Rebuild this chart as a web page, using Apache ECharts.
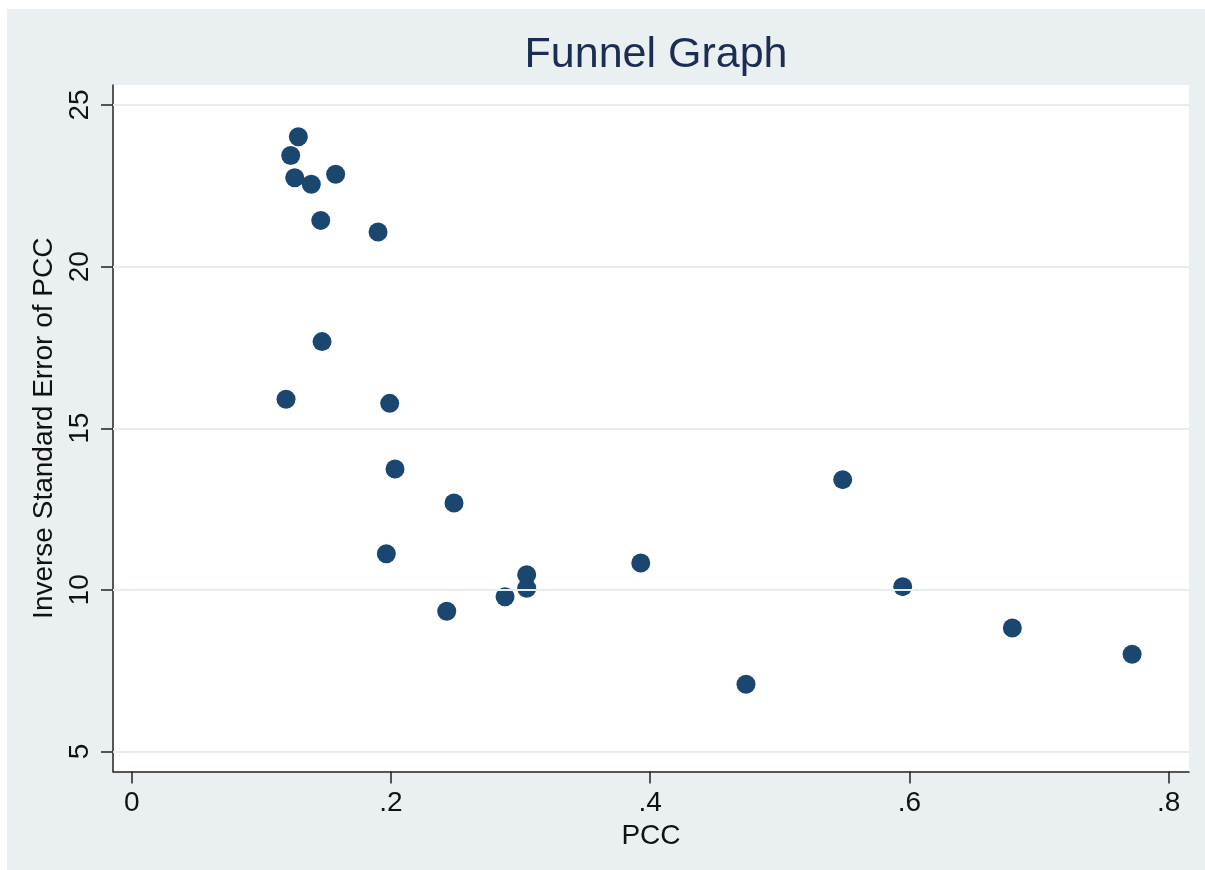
<!DOCTYPE html>
<html>
<head>
<meta charset="utf-8">
<script src="https://cdn.jsdelivr.net/npm/echarts@6/dist/echarts.min.js"></script>
<style>
  html, body { margin: 0; padding: 0; background: #ffffff; }
  #bg { position: absolute; left: 7px; top: 9px; width: 1198px; height: 861px; background: #eaf0f1; }
  #chart { position: absolute; left: 0; top: 0; width: 1205px; height: 870px; }
</style>
</head>
<body>
<div id="bg"></div>
<div id="chart"></div>
<script>
// PCC (x) and inverse standard error of PCC (y)
const pcc = [0.1285, 0.1226, 0.1257, 0.1385, 0.1573, 0.1458, 0.1900, 0.1468, 0.1190, 0.1990,
             0.2031, 0.2486, 0.1964, 0.2430, 0.2880, 0.3047, 0.3047, 0.3927, 0.4739, 0.5485,
             0.5948, 0.6794, 0.7718];
const invSE = [24.02, 23.44, 22.75, 22.55, 22.86, 21.43, 21.07, 17.68, 15.90, 15.77,
               13.74, 12.69, 11.12, 9.34, 9.79, 10.47, 10.05, 10.83, 7.08, 13.41,
               10.10, 8.82, 8.01];
const xTicks = [0, 0.2, 0.4, 0.6, 0.8];
const xTickLabels = ['0', '.2', '.4', '.6', '.8'];
const yTicks = [5, 10, 15, 20, 25];
const yTickLabels = ['5', '10', '15', '20', '25'];

const points = pcc.map((x, i) => [x, invSE[i]]);

function lookup(ticks, labels, v) {
  for (let i = 0; i < ticks.length; i++) {
    if (Math.abs(ticks[i] - v) < 1e-9) return labels[i];
  }
  return '';
}

const FONT = 'Liberation Sans';
const chart = echarts.init(document.getElementById('chart'), null, { renderer: 'canvas' });
chart.setOption({
  backgroundColor: 'transparent',
  animation: false,
  title: {
    text: 'Funnel Graph',
    left: 651,
    textAlign: 'center',
    top: 29,
    textStyle: { fontFamily: FONT, fontSize: 43, fontWeight: 'normal', color: '#1c2d54' }
  },
  grid: {
    left: 113, top: 85, right: 16, bottom: 98.5,
    show: true, backgroundColor: '#ffffff', borderWidth: 0
  },
  xAxis: {
    type: 'value',
    min: -0.0145, max: 0.8157,
    name: 'PCC',
    nameLocation: 'middle',
    nameGap: 50,
    nameTextStyle: { fontFamily: FONT, fontSize: 28, color: '#111' },
    axisLine: { show: true, onZero: false, lineStyle: { color: '#222', width: 1.5 } },
    axisTick: { show: true, length: 12, customValues: xTicks, lineStyle: { color: '#222', width: 1.5 } },
    axisLabel: {
      customValues: xTicks, margin: 18,
      fontFamily: FONT, fontSize: 28, color: '#111',
      formatter: v => lookup(xTicks, xTickLabels, v)
    },
    splitLine: { show: false }
  },
  yAxis: {
    type: 'value',
    min: 4.381, max: 25.619,
    name: 'Inverse Standard Error of PCC',
    nameLocation: 'middle',
    nameGap: 54,
    nameRotate: 90,
    nameTextStyle: { fontFamily: FONT, fontSize: 28, color: '#111' },
    axisLine: { show: true, onZero: false, lineStyle: { color: '#222', width: 1.5 } },
    axisTick: { show: true, length: 12, customValues: yTicks, lineStyle: { color: '#222', width: 1.5 } },
    axisLabel: {
      customValues: yTicks, margin: 19, rotate: 90,
      fontFamily: FONT, fontSize: 28, color: '#111',
      formatter: v => lookup(yTicks, yTickLabels, v)
    },
    splitLine: { show: false }
  },
  series: [
    {
      type: 'scatter',
      data: [],
      z: 1,
      silent: true,
      markLine: {
        silent: true,
        symbol: 'none',
        label: { show: false },
        lineStyle: { color: '#e6edef', width: 2, type: 'solid' },
        data: yTicks.map(v => ({ yAxis: v }))
      }
    },
    {
      type: 'scatter',
      z: 3,
      data: points,
      symbol: 'circle',
      symbolSize: 19,
      itemStyle: { color: '#1a476f', opacity: 1 }
    }
  ]
});
</script>
</body>
</html>
